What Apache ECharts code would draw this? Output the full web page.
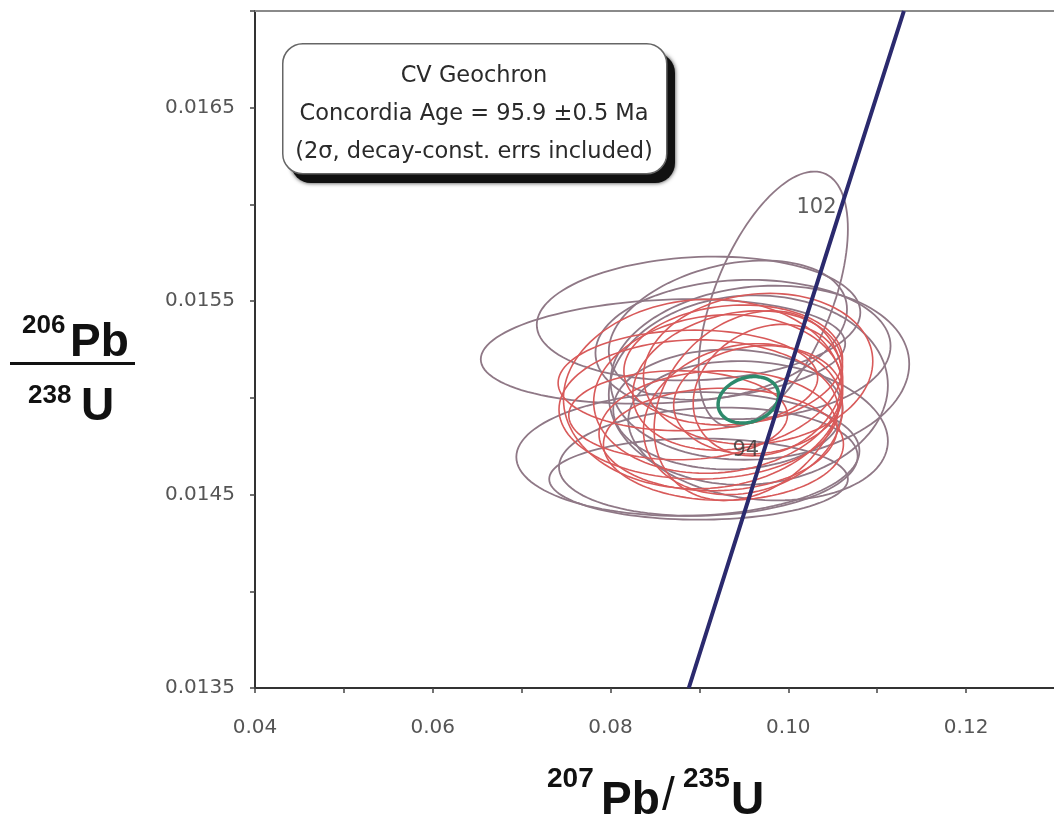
<!DOCTYPE html>
<html>
<head>
<meta charset="utf-8">
<script src="https://cdn.jsdelivr.net/npm/echarts@6/dist/echarts.min.js"></script>
<style>
  html, body { margin: 0; padding: 0; background: #ffffff; overflow: hidden; }
  #chart { width: 1058px; height: 824px; }
</style>
</head>
<body>
<div id="chart"></div>
<script>
// Axis ranges (207Pb/235U on x, 206Pb/238U on y)
const xMin = 0.04, xMax = 0.13, xStep = 0.01;
const yMin = 0.0135, yMax = 0.0170, yStep = 0.0005;

// Individual analyses: centre, 2-sigma errors and error correlation
const ellX   = [0.0983, 0.0859, 0.0899, 0.0968, 0.0949, 0.0887, 0.0910, 0.0966, 0.0932, 0.0932, 0.0955, 0.0899,
                0.0921, 0.0943, 0.0899, 0.0966, 0.0887, 0.0949, 0.0921, 0.0938, 0.0977, 0.0904, 0.0955, 0.0876, 0.0966, 0.0927];
const ellY   = [0.01551, 0.01524, 0.01541, 0.01513, 0.01525, 0.01471, 0.01467, 0.01483, 0.01535, 0.01494, 0.01504, 0.01458,
                0.01502, 0.01509, 0.01494, 0.01499, 0.01509, 0.01489, 0.01483, 0.01517, 0.01504, 0.01502, 0.01496, 0.01491, 0.01515, 0.01476];
const ellSx  = [0.0084, 0.0205, 0.0182, 0.0168, 0.0166, 0.0193, 0.0168, 0.0146, 0.0134, 0.0129, 0.0157, 0.0168,
                0.0140, 0.0118, 0.0157, 0.0095, 0.0146, 0.0112, 0.0134, 0.0123, 0.0084, 0.0157, 0.0106, 0.0123, 0.0129, 0.0135];
const ellSy  = [0.00066, 0.00027, 0.00032, 0.00045, 0.00036, 0.00032, 0.00028, 0.00036, 0.00036, 0.00031, 0.00049, 0.00021,
                0.00041, 0.00036, 0.00036, 0.00028, 0.00026, 0.00039, 0.00031, 0.00031, 0.00034, 0.00049, 0.00049, 0.00023, 0.00039, 0.00029];
const ellRho = [0.55, 0.15, 0.10, 0.10, 0.05, 0.05, 0.10, -0.15, 0.30, 0.00, 0.05, 0.00,
                0.10, 0.20, 0.00, 0.10, 0.05, 0.15, 0.05, 0.10, 0.20, 0.05, 0.25, 0.00, 0.10, 0.00];
const ellKind = ['grey', 'grey', 'grey', 'grey', 'grey', 'grey', 'grey', 'grey', 'grey', 'grey', 'grey', 'grey',
                 'red', 'red', 'red', 'red', 'red', 'red', 'red', 'red', 'red', 'red', 'red', 'red', 'red', 'red'];

// Concordia age ellipse
const ageX = [0.0955], ageY = [0.01499], ageSx = [0.0034], ageSy = [0.00012], ageRho = [0.2];

// Concordia curve and its labelled age marks
const concX = [0.0888, 0.0970, 0.1057, 0.1130];
const concY = [0.0135, 0.01469, 0.01595, 0.0170];
const markX = [0.0970, 0.1057];
const markY = [0.01469, 0.01595];
const markAge = ['94', '102'];

const boxLines = ['CV Geochron', 'Concordia Age = 95.9 \u00b10.5 Ma', '(2\u03c3, decay-const. errs included)'];

const kindColor = { grey: '#8f7886', red: '#d85a5a' };
const kindWidth = { grey: 1.8, red: 1.6 };

function ellipseRenderer(colorOf, widthOf) {
  return function (params, api) {
    const cx = api.value(0), cy = api.value(1), sx = api.value(2), sy = api.value(3), r = api.value(4);
    const k = Math.sqrt(1 - r * r);
    const pts = [];
    const n = 120;
    for (let i = 0; i < n; i++) {
      const t = i / n * Math.PI * 2;
      pts.push(api.coord([cx + sx * Math.cos(t), cy + sy * (r * Math.cos(t) + k * Math.sin(t))]));
    }
    return {
      type: 'polygon',
      shape: { points: pts },
      style: { fill: 'none', stroke: colorOf(params.dataIndex), lineWidth: widthOf(params.dataIndex) }
    };
  };
}

const ellData = ellX.map((x, i) => [x, ellY[i], ellSx[i], ellSy[i], ellRho[i]]);
const ageData = ageX.map((x, i) => [x, ageY[i], ageSx[i], ageSy[i], ageRho[i]]);
const concData = concX.map((x, i) => [x, concY[i]]);
const markData = markX.map((x, i) => [x, markY[i], markAge[i]]);

const titleFont = 'Liberation Sans, Arial, sans-serif';
const textFont = 'DejaVu Sans, sans-serif';

function txt(text, x, y, size, bold) {
  return {
    type: 'text', x: x, y: y, silent: true,
    style: {
      text: text, fill: '#111', font: (bold ? 'bold ' : '') + size + 'px ' + titleFont,
      textAlign: 'left', textVerticalAlign: 'middle'
    }
  };
}

const chart = echarts.init(document.getElementById('chart'), null, { renderer: 'canvas' });

chart.setOption({
  animation: false,
  backgroundColor: '#ffffff',
  grid: { left: 255, right: 0, top: 11, bottom: 136, show: false },
  xAxis: [
    {
      type: 'value', min: xMin, max: xMax, interval: xStep,
      axisLine: { show: true, onZero: false, lineStyle: { color: '#333', width: 2 } },
      axisTick: { show: true, length: 5, lineStyle: { color: '#444', width: 1.5 } },
      splitLine: { show: false },
      axisLabel: {
        margin: 30, color: '#555', fontSize: 20, fontFamily: textFont,
        formatter: v => (Math.round(v * 100) % 2 === 0 ? v.toFixed(2) : '')
      }
    },
    {
      // frame line along the top of the plot
      type: 'value', position: 'top', min: xMin, max: xMax,
      axisLine: { show: true, onZero: false, lineStyle: { color: '#8a8a8a', width: 2 } },
      axisTick: { show: false }, axisLabel: { show: false }, splitLine: { show: false }
    }
  ],
  yAxis: {
    type: 'value', min: yMin, max: yMax, interval: yStep,
    axisLine: { show: true, onZero: false, lineStyle: { color: '#333', width: 2 } },
    axisTick: { show: true, length: 5, lineStyle: { color: '#444', width: 1.5 } },
    splitLine: { show: false },
    axisLabel: {
      margin: 20, color: '#555', fontSize: 20, fontFamily: textFont,
      formatter: v => (Math.round(v * 10000) % 10 === 5 ? v.toFixed(4) : '')
    }
  },
  series: [
    {
      type: 'custom', name: 'analyses', data: ellData,
      dimensions: ['x', 'y', 'sx', 'sy', 'rho'], encode: { x: 0, y: 1 },
      renderItem: ellipseRenderer(i => kindColor[ellKind[i]], i => kindWidth[ellKind[i]]),
      silent: true, z: 2
    },
    {
      type: 'custom', name: 'concordia age', data: ageData,
      dimensions: ['x', 'y', 'sx', 'sy', 'rho'], encode: { x: 0, y: 1 },
      renderItem: ellipseRenderer(() => '#2d8a6c', () => 3.5),
      silent: true, z: 3
    },
    {
      type: 'line', name: 'concordia', data: concData,
      showSymbol: false, symbol: 'none', smooth: false,
      lineStyle: { color: '#2b2a6e', width: 4 }, z: 4, silent: true
    },
    {
      type: 'scatter', name: 'age marks', data: markData,
      symbolSize: 1, itemStyle: { color: 'transparent' }, z: 5, silent: true,
      label: {
        show: true, position: 'left', distance: 2, offset: [0, -7],
        formatter: p => p.value[2], color: '#333', fontSize: 21, fontFamily: textFont
      }
    }
  ],
  graphic: [
    // drop shadow of the annotation box
    {
      type: 'rect', left: 291, top: 53, z: 9, silent: true,
      shape: { width: 384, height: 130, r: 20 },
      style: { fill: '#111', shadowColor: 'rgba(0,0,0,0.8)', shadowBlur: 4 }
    },
    {
      type: 'rect', left: 282, top: 43, z: 10, silent: true,
      shape: { width: 384, height: 130, r: 20 },
      style: { fill: '#ffffff', stroke: '#666', lineWidth: 1.5 }
    },
    ...boxLines.map((t, i) => ({
      type: 'text', x: 474, y: 76 + i * 38, z: 11, silent: true,
      style: { text: t, fill: '#2a2a2a', font: '22.5px ' + textFont, textAlign: 'center', textVerticalAlign: 'middle' }
    })),
    // x-axis title: 207Pb/235U
    txt('207', 547, 779, 28, true),
    txt('Pb', 601, 801, 46, true),
    txt('/', 662, 797, 46, false),
    txt('235', 683, 779, 28, true),
    txt('U', 731, 801, 46, true),
    // y-axis title: 206Pb over 238U
    txt('206', 22, 326, 26, true),
    txt('Pb', 70, 343, 46, true),
    { type: 'rect', left: 10, top: 362, silent: true, shape: { width: 125, height: 3 }, style: { fill: '#111' } },
    txt('238', 28, 396, 26, true),
    txt('U', 81, 407, 46, true)
  ]
});
</script>
</body>
</html>
